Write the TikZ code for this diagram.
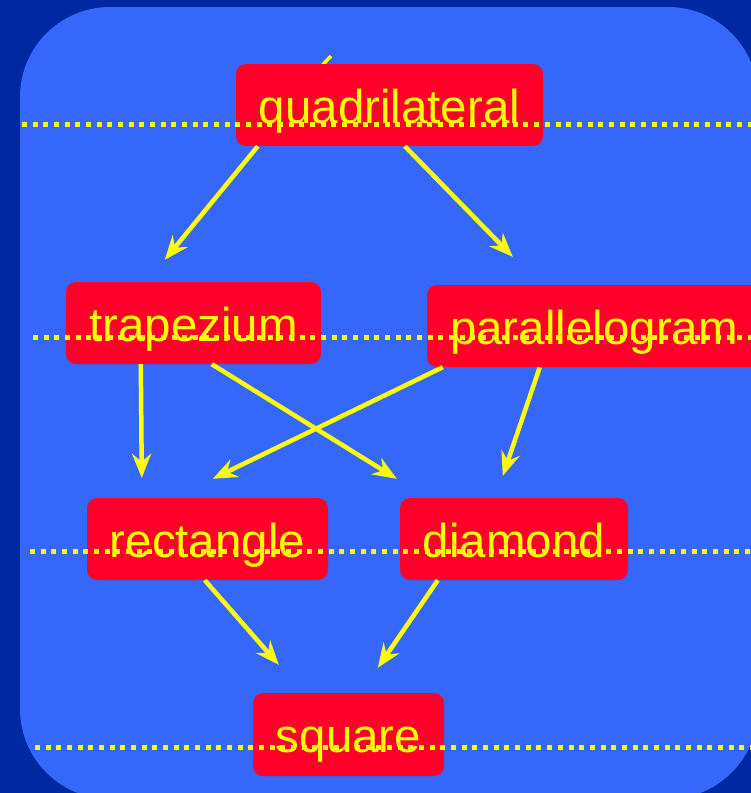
\documentclass[tikz,border=0pt]{standalone}
\usepackage{fontspec}
\setmainfont{Liberation Sans}
\usetikzlibrary{arrows.meta}
\definecolor{bgdark}{HTML}{0028A0}
\definecolor{bglight}{HTML}{3568FA}
\definecolor{boxred}{HTML}{FF0028}
\definecolor{ylw}{HTML}{FFFF00}
\tikzset{
  shapebox/.style={fill=boxred, rounded corners=10pt, inner sep=0pt,
    minimum height=82pt, text=ylw, text height=44pt, text depth=8pt,
    font=\fontsize{47.5}{57}\selectfont},
  arr/.style={draw=ylw, line width=4.5pt,
    -{Stealth[length=24pt,width=19pt,inset=8pt]}},
  levelline/.style={draw=ylw, line width=5pt, dash pattern=on 5pt off 5.67pt},
}
\begin{document}
\begin{tikzpicture}[x=1pt,y=-1pt]
\useasboundingbox (0,0) rectangle (751,793);
\fill[bgdark] (0,0) rectangle (751,793);
\clip (0,0) rectangle (751,793);
\fill[bglight, rounded corners=90pt] (20,7) rectangle (758,799);
% small stub hidden behind the top node
\coordinate (stubA) at (316,72);
\coordinate (stubB) at (331,56);
\draw[ylw, line width=3.5pt] (stubA) -- (stubB);
% nodes
\node[shapebox, minimum width=307pt] (quad) at (389.5,105) {quadrilateral};
\node[shapebox, minimum width=255pt] (trap) at (193.5,323) {trapezium};
\node[shapebox, minimum width=334pt] (para) at (594,326) {parallelogram};
\node[shapebox, minimum width=241pt] (rect) at (207.5,539) {rectangle};
\node[shapebox, minimum width=228pt] (diam) at (514,539) {diamond};
\node[shapebox, minimum width=191pt, minimum height=83pt] (sq) at (348.5,734.5) {square};
% arrows
\draw[arr] ([xshift=22pt]quad.south west) -- ([shift={(99pt,22pt)}]trap.north west);
\draw[arr] ([xshift=169pt]quad.south west) -- ([shift={(86pt,28pt)}]para.north west);
\draw[arr] ([xshift=75pt]trap.south west) -- ([shift={(55pt,20pt)}]rect.north west);
\draw[arr] ([xshift=146pt]trap.south west) -- ([shift={(-3pt,19pt)}]diam.north west);
\draw[arr] ([xshift=16pt]para.south west) -- ([shift={(126pt,19pt)}]rect.north west);
\draw[arr] ([xshift=113pt]para.south west) -- ([shift={(103pt,22pt)}]diam.north west);
\draw[arr] ([xshift=118pt]rect.south west) -- ([shift={(26pt,28pt)}]sq.north west);
\draw[arr] ([xshift=38pt]diam.south west) -- ([shift={(125pt,25pt)}]sq.north west);
% dotted level lines
\coordinate (l1a) at (22,124); \coordinate (l1b) at (755,124);
\coordinate (l2a) at (33,337); \coordinate (l2b) at (755,337);
\coordinate (l3a) at (30,551); \coordinate (l3b) at (755,551);
\coordinate (l4a) at (35,747); \coordinate (l4b) at (755,747);
\draw[levelline] (l1a) -- (l1b);
\draw[levelline] (l2a) -- (l2b);
\draw[levelline] (l3a) -- (l3b);
\draw[levelline] (l4a) -- (l4b);
\end{tikzpicture}
\end{document}
